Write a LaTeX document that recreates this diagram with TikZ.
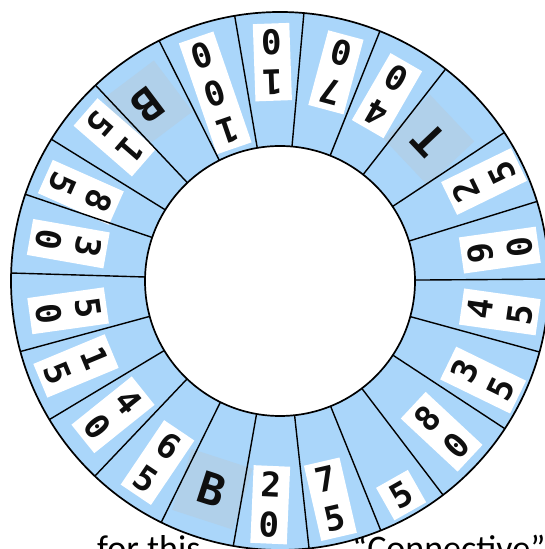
\documentclass[tikz,border=0pt]{standalone}
\usepackage{fontspec}
\setmainfont{Carlito}
\newfontfamily\tagfont{DejaVu Sans Mono}
\usepackage{tikz}
\definecolor{ringblue}{RGB}{170,214,250}
\definecolor{patchblue}{RGB}{176,208,234}
\definecolor{inkdark}{RGB}{15,15,15}
\tikzset{
  ringline/.style={draw=black, line width=1.7pt},
  spoke/.style={draw=black, line width=1.4pt},
  numtag/.style={fill=white, inner xsep=8pt, inner ysep=6pt, align=center,
    text=inkdark, font=\fontsize{34}{40}\selectfont\tagfont\bfseries},
  lettertag/.style={fill=patchblue, minimum size=64pt, inner sep=0pt,
    text=inkdark, font=\fontsize{44}{44}\selectfont\tagfont\bfseries}
}

\begin{document}
\begin{tikzpicture}[x=1pt, y=1pt]
  \useasboundingbox (0,0) rectangle (545,549);
  \clip (0,0) rectangle (545,549);

  % caption underneath, mostly cut off by the page edge and the wheel
  \node[font=\fontsize{36}{40}\selectfont, anchor=base west, inner sep=0pt] (capleft) at (97,-12) {for this};
  \node[font=\fontsize{36}{40}\selectfont, anchor=base west, inner sep=0pt] (capright) at (352,-12) {“Connective”};

  \begin{scope}[shift={(280,268)}]
    % blue ring
    \fill[ringblue, even odd rule] (0,0) circle (269) (0,0) circle (135);

    % tags, read with their tops towards the hub
    \node[numtag, rotate=98]    (n90)  at (8:222)     {9\\0};
    \node[numtag, rotate=116]   (n25)  at (26:227)    {2\\5};
    \node[lettertag, rotate=133.4] (pT) at (43.4:205) {T};
    \node[numtag, rotate=150]   (n40a) at (60:214)    {4\\0};
    \node[numtag, rotate=165]   (n70)  at (75:216)    {7\\0};
    \node[numtag, rotate=182]   (n10)  at (92:219)    {1\\0};
    \node[numtag, rotate=199]   (n100) at (109:199)   {1\\0\\0};
    \node[lettertag, rotate=217] (pBa) at (127:220)   {B};
    \node[numtag, rotate=229]   (n15a) at (139:219)   {1\\5};
    \node[numtag, rotate=246]   (n85)  at (156:218)   {8\\5};
    \node[numtag, rotate=260]   (n30)  at (170:215)   {3\\0};
    \node[numtag, rotate=278]   (n50)  at (188:214)   {5\\0};
    \node[numtag, rotate=292.6] (n15b) at (202.6:221) {1\\5};
    \node[numtag, rotate=308.7] (n40b) at (218.7:214) {4\\0};
    \node[numtag, rotate=326]   (n65)  at (236:219)   {6\\5};
    \node[lettertag, rotate=342] (pBb) at (252:219)   {B};
    \node[numtag, rotate=357.5] (n20)  at (267.5:224) {2\\0};
    \node[numtag, rotate=373]   (n75)  at (283:224)   {7\\5};
    \node[numtag, rotate=389.5] (n5)   at (299.5:246) {5};
    \node[numtag, rotate=407]   (n80)  at (317:221)   {8\\0};
    \node[numtag, rotate=424]   (n35)  at (334:226)   {3\\5};
    \node[numtag, rotate=442]   (n45)  at (352:222)   {4\\5};

    % spokes between the pockets
    \draw[spoke] (0.4:135) -- (0.4:269);
    \draw[spoke] (17.2:135) -- (17.2:269);
    \draw[spoke] (33.5:135) -- (33.5:269);
    \draw[spoke] (52:135) -- (52:269);
    \draw[spoke] (68.2:135) -- (68.2:269);
    \draw[spoke] (84.9:135) -- (84.9:269);
    \draw[spoke] (99.7:135) -- (99.7:269);
    \draw[spoke] (116.7:135) -- (116.7:269);
    \draw[spoke] (133.3:135) -- (133.3:269);
    \draw[spoke] (148.2:135) -- (148.2:269);
    \draw[spoke] (161.2:135) -- (161.2:269);
    \draw[spoke] (178.3:135) -- (178.3:269);
    \draw[spoke] (195.2:135) -- (195.2:269);
    \draw[spoke] (211:135) -- (211:269);
    \draw[spoke] (226.5:135) -- (226.5:269);
    \draw[spoke] (243.8:135) -- (243.8:269);
    \draw[spoke] (260:135) -- (260:269);
    \draw[spoke] (276.2:135) -- (276.2:269);
    \draw[spoke] (292:135) -- (292:269);
    \draw[spoke] (307.3:135) -- (307.3:269);
    \draw[spoke] (326.7:135) -- (326.7:269);
    \draw[spoke] (344.7:135) -- (344.7:269);

    % rims
    \draw[ringline] (0,0) circle (269);
    \draw[ringline] (0,0) circle (135);
  \end{scope}
\end{tikzpicture}
\end{document}
